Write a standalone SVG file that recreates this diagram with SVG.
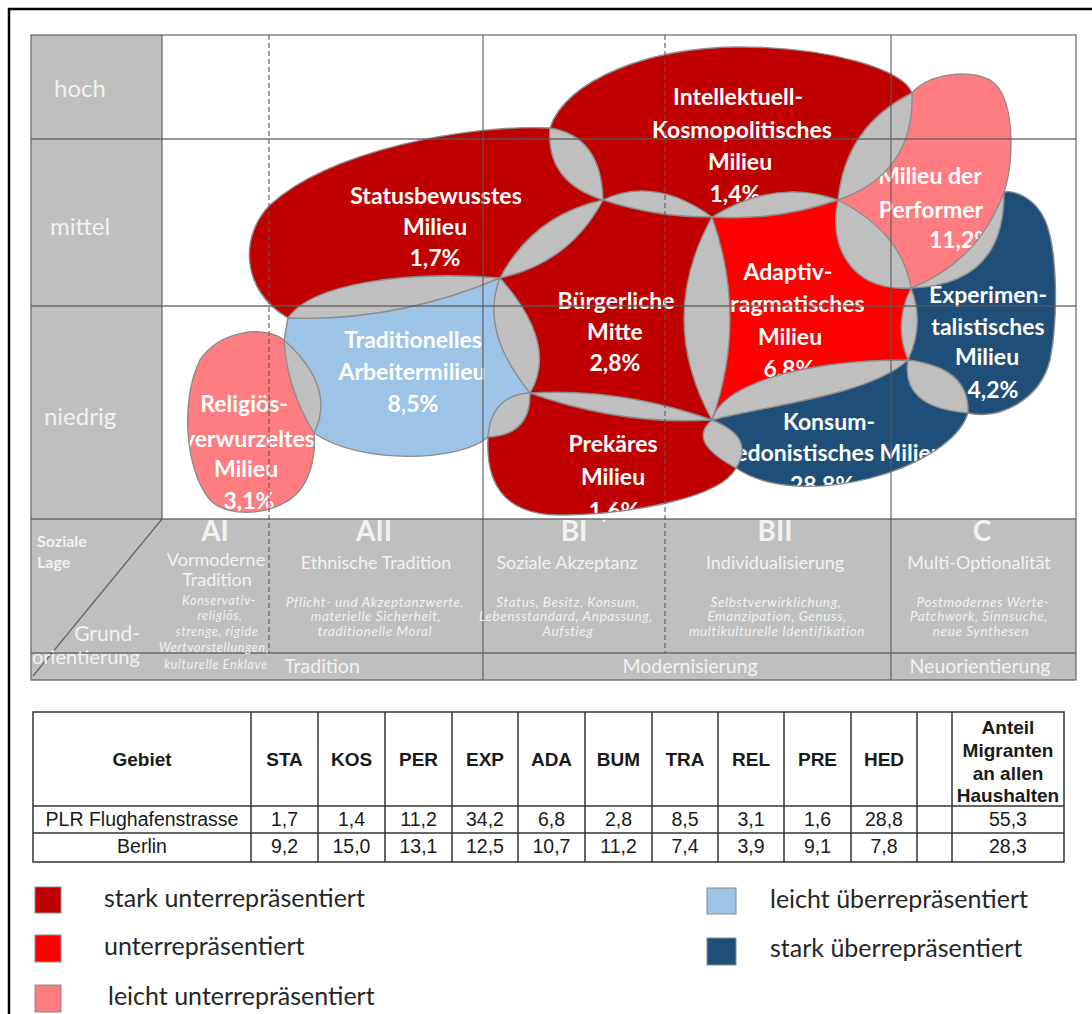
<svg xmlns="http://www.w3.org/2000/svg" xmlns:xlink="http://www.w3.org/1999/xlink" width="1092" height="1014" viewBox="0 0 1092 1014">
<style>
.bg{fill:#ffffff}
.gray{fill:#bfbfbf}
.grid{stroke:#595959;stroke-width:1.3;fill:none;opacity:0.85}
.dash{stroke:#595959;stroke-width:1.3;fill:none;stroke-dasharray:5 3;opacity:0.85}
.dkred{fill:#c00000}
.red{fill:#ff0000}
.ltred{fill:#ff7c80}
.ltblue{fill:#9dc3e6}
.dkblue{fill:#1f4e79}
.lens{fill:#bfbfbf}
.outline{fill:none;stroke:#8c8c8c;stroke-width:1.4}
.bt{font-family:Lato,"Liberation Sans",sans-serif;font-weight:700;font-size:23px;fill:#ffffff;text-anchor:middle}
.rowl{font-family:Lato,"Liberation Sans",sans-serif;font-size:24px;fill:#f2f2f2;text-anchor:middle}
.col{font-family:Lato,"Liberation Sans",sans-serif;font-weight:700;font-size:28px;fill:#f2f2f2;text-anchor:middle}
.sub{font-family:Lato,"Liberation Sans",sans-serif;font-size:18px;fill:#f2f2f2;text-anchor:middle}
.it{font-family:Lato,"Liberation Sans",sans-serif;font-style:italic;font-size:13.5px;letter-spacing:0.6px;fill:#f2f2f2;text-anchor:middle}
.it2{font-family:Lato,"Liberation Sans",sans-serif;font-style:italic;font-size:12.5px;letter-spacing:0.7px;fill:#f2f2f2;text-anchor:middle}
.bot{font-family:Lato,"Liberation Sans",sans-serif;font-size:19.5px;fill:#f2f2f2;text-anchor:middle}
.cl{font-family:Lato,"Liberation Sans",sans-serif;fill:#f2f2f2}
.tline{stroke:#333333;stroke-width:1.5;fill:none}
.th{font-family:"Liberation Sans",Arial,sans-serif;font-weight:700;font-size:19px;fill:#1a1a1a;text-anchor:middle}
.td{font-family:"Liberation Sans",Arial,sans-serif;font-size:19.5px;fill:#1a1a1a;text-anchor:middle}
.leg{font-family:Lato,"Liberation Sans",sans-serif;font-size:25px;fill:#262626}
.sq{stroke:#8c8c8c;stroke-width:1}
</style>
<defs>
<path id="p-sta" d="M550,128 Q601.5,136 603,200 Q569.7,263 500,278 Q396,322 288,318 C240,290 240,235 270,205 C330,150 470,124 550,128 Z"/>
<path id="p-kos" d="M550,128 C565,80 650,47 740,47 C830,47 905,70 912,93 Q914.5,173.8 838,200 Q775,221.5 712,217 Q656.5,217.5 603,200 Q545.5,182 550,128 Z"/>
<path id="p-bum" d="M500,278 Q533.3,215 603,200 Q654.5,175.5 712,217 Q748,318.5 712,420 Q621,425.5 530,393 Q479,330.5 500,278 Z"/>
<path id="p-ada" d="M712,217 Q775,177.5 838,200 Q902,232.5 911,288 Q925,324 908,360 C870,395 770,405 712,420 Q656,318.5 712,217 Z"/>
<path id="p-per" d="M912,93 C930,72 970,70 990,80 C1015,95 1015,160 1004,192 Q1005,285 911,288 C850,292 828,245 838,200 Q845.4,126 912,93 Z"/>
<path id="p-exp" d="M1004,192 C1015,190 1035,198 1045,220 C1058,250 1058,320 1050,360 C1040,400 1000,420 968,413 Q900,407.5 908,360 Q893,324 911,288 Q978,262 1004,192 Z"/>
<path id="p-hed" d="M712,420 C722,385 800,360 908,360 Q970,367.5 968,413 C950,470 800,512 736,468 Q686,441.5 712,420 Z"/>
<path id="p-pre" d="M530,393 Q621,387.5 712,420 Q756,437.5 736,468 C720,500 620,515 560,515 C510,515 485,490 488,437 Q491,395 530,393 Z"/>
<path id="p-tra" d="M288,318 C310,285 400,270 500,278 Q559,344.5 530,393 Q531,435 488,437 C460,462 360,465 314,433 Q287,389.5 284,340 L288,318 Z"/>
<path id="p-rel" d="M284,340 C265,325 220,330 200,360 C180,400 185,470 210,500 C230,520 280,515 300,490 C312,475 316,450 314,433 Q337,387.5 284,340 Z"/>
<clipPath id="c-sta"><use xlink:href="#p-sta"/></clipPath>
<clipPath id="c-kos"><use xlink:href="#p-kos"/></clipPath>
<clipPath id="c-bum"><use xlink:href="#p-bum"/></clipPath>
<clipPath id="c-ada"><use xlink:href="#p-ada"/></clipPath>
<clipPath id="c-per"><use xlink:href="#p-per"/></clipPath>
<clipPath id="c-exp"><use xlink:href="#p-exp"/></clipPath>
<clipPath id="c-hed"><use xlink:href="#p-hed"/></clipPath>
<clipPath id="c-tra"><use xlink:href="#p-tra"/></clipPath>
</defs>

<rect class="bg" x="0" y="0" width="1092" height="1014"/>
<path d="M9,1014 V9 H1092" fill="none" stroke="#000000" stroke-width="2.5"/>

<!-- chart backgrounds -->
<g id="chart-bg">
<rect class="gray" x="31" y="35" width="131" height="484"/>
<rect class="gray" x="31" y="519" width="1045" height="161"/>
<text class="rowl" x="80" y="97">hoch</text>
<text class="rowl" x="80" y="235">mittel</text>
<text class="rowl" x="80" y="425">niedrig</text>
</g>

<!-- milieu nodes -->
<g id="node-sta"><use xlink:href="#p-sta" class="dkred"/>
<text class="bt" x="436" y="204">Statusbewusstes</text><text class="bt" x="435" y="235">Milieu</text><text class="bt" x="435" y="266">1,7%</text></g>
<g id="node-kos"><use xlink:href="#p-kos" class="dkred"/>
<text class="bt" x="738" y="105">Intellektuell-</text><text class="bt" x="742" y="138">Kosmopolitisches</text><text class="bt" x="740" y="170">Milieu</text><text class="bt" x="735" y="202">1,4%</text></g>
<g id="node-bum"><use xlink:href="#p-bum" class="dkred"/>
<text class="bt" x="616" y="309">Bürgerliche</text><text class="bt" x="615" y="340">Mitte</text><text class="bt" x="615" y="371">2,8%</text></g>
<g id="node-ada"><use xlink:href="#p-ada" class="red"/>
<text class="bt" x="788" y="280">Adaptiv-</text><text class="bt" x="791" y="312">pragmatisches</text><text class="bt" x="790" y="345">Milieu</text><text class="bt" x="789" y="377">6,8%</text></g>
<g id="node-per"><use xlink:href="#p-per" class="ltred"/>
<text class="bt" x="930" y="184">Milieu der</text><text class="bt" x="931" y="218">Performer</text><text class="bt" x="961" y="248">11,2%</text></g>
<g id="node-exp"><use xlink:href="#p-exp" class="dkblue"/>
<text class="bt" x="988" y="303">Experimen-</text><text class="bt" x="988" y="335">talistisches</text><text class="bt" x="987" y="365">Milieu</text><text class="bt" x="993" y="398">4,2%</text></g>
<g id="node-hed"><use xlink:href="#p-hed" class="dkblue"/>
<text class="bt" x="829" y="430">Konsum-</text><text class="bt" x="833" y="461">hedonistisches Milieu</text><text class="bt" x="822" y="493">28,8%</text></g>
<g id="node-pre"><use xlink:href="#p-pre" class="dkred"/>
<text class="bt" x="613" y="452">Prekäres</text><text class="bt" x="613" y="485">Milieu</text><text class="bt" x="614" y="519">1,6%</text></g>
<g id="node-tra"><use xlink:href="#p-tra" class="ltblue"/>
<text class="bt" x="413" y="348">Traditionelles</text><text class="bt" x="412" y="380">Arbeitermilieu</text><text class="bt" x="413" y="412">8,5%</text></g>
<g id="node-rel"><use xlink:href="#p-rel" class="ltred"/>
<text class="bt" x="244" y="412">Religiös-</text><text class="bt" x="249" y="447">verwurzeltes</text><text class="bt" x="246" y="477">Milieu</text><text class="bt" x="249" y="509">3,1%</text></g>

<!-- overlaps and outlines -->
<g id="overlaps">
<use xlink:href="#p-kos" class="lens" clip-path="url(#c-sta)"/>
<use xlink:href="#p-bum" class="lens" clip-path="url(#c-sta)"/>
<use xlink:href="#p-tra" class="lens" clip-path="url(#c-sta)"/>
<use xlink:href="#p-bum" class="lens" clip-path="url(#c-kos)"/>
<use xlink:href="#p-ada" class="lens" clip-path="url(#c-kos)"/>
<use xlink:href="#p-per" class="lens" clip-path="url(#c-kos)"/>
<use xlink:href="#p-ada" class="lens" clip-path="url(#c-per)"/>
<use xlink:href="#p-exp" class="lens" clip-path="url(#c-per)"/>
<use xlink:href="#p-bum" class="lens" clip-path="url(#c-ada)"/>
<use xlink:href="#p-exp" class="lens" clip-path="url(#c-ada)"/>
<use xlink:href="#p-hed" class="lens" clip-path="url(#c-ada)"/>
<use xlink:href="#p-hed" class="lens" clip-path="url(#c-exp)"/>
<use xlink:href="#p-pre" class="lens" clip-path="url(#c-hed)"/>
<use xlink:href="#p-pre" class="lens" clip-path="url(#c-bum)"/>
<use xlink:href="#p-tra" class="lens" clip-path="url(#c-bum)"/>
<use xlink:href="#p-pre" class="lens" clip-path="url(#c-tra)"/>
<use xlink:href="#p-rel" class="lens" clip-path="url(#c-tra)"/>
<use xlink:href="#p-sta" class="outline"/>
<use xlink:href="#p-kos" class="outline"/>
<use xlink:href="#p-bum" class="outline"/>
<use xlink:href="#p-ada" class="outline"/>
<use xlink:href="#p-per" class="outline"/>
<use xlink:href="#p-exp" class="outline"/>
<use xlink:href="#p-hed" class="outline"/>
<use xlink:href="#p-pre" class="outline"/>
<use xlink:href="#p-tra" class="outline"/>
<use xlink:href="#p-rel" class="outline"/>
</g>

<!-- grid lines -->
<g id="grid">
<rect class="grid" x="31" y="35" width="1045" height="645"/>
<line class="grid" x1="31" y1="139" x2="1076" y2="139"/>
<line class="grid" x1="31" y1="306" x2="1076" y2="306"/>
<line class="grid" x1="31" y1="519" x2="1076" y2="519"/>
<line class="grid" x1="31" y1="653" x2="1076" y2="653"/>
<line class="grid" x1="162" y1="35" x2="162" y2="519"/>
<line class="grid" x1="483" y1="35" x2="483" y2="680"/>
<line class="grid" x1="891" y1="35" x2="891" y2="680"/>
<line class="dash" x1="269" y1="35" x2="269" y2="653"/>
<line class="dash" x1="665" y1="35" x2="665" y2="653"/>
<line class="grid" x1="162" y1="519" x2="33" y2="676"/>
</g>

<!-- band labels -->
<g id="band-labels">
<text class="cl" x="37" y="547" font-size="16" font-weight="700">Soziale</text>
<text class="cl" x="37" y="568" font-size="16" font-weight="700">Lage</text>
<text class="cl" x="140" y="641" font-size="21" text-anchor="end">Grund-</text>
<text class="cl" x="32" y="664" font-size="20">orientierung</text>
<text class="col" x="215" y="541">AI</text>
<text class="col" x="374" y="541">AII</text>
<text class="col" x="574" y="541">BI</text>
<text class="col" x="775" y="541">BII</text>
<text class="col" x="982" y="541">C</text>
<text class="sub" x="216" y="566">Vormoderne</text>
<text class="sub" x="217" y="586">Tradition</text>
<text class="sub" x="376" y="569">Ethnische Tradition</text>
<text class="sub" x="567" y="569">Soziale Akzeptanz</text>
<text class="sub" x="775" y="569">Individualisierung</text>
<text class="sub" x="979" y="569">Multi-Optionalität</text>
<text class="it2" x="219" y="605">Konservativ-</text>
<text class="it2" x="220" y="620">religiös,</text>
<text class="it2" x="217" y="636">strenge, rigide</text>
<text class="it2" x="214" y="652">Wertvorstellungen,</text>
<text class="it2" x="216" y="669">kulturelle Enklave</text>
<text class="it" x="375" y="607">Pflicht- und Akzeptanzwerte,</text>
<text class="it" x="376" y="621">materielle Sicherheit,</text>
<text class="it" x="375" y="636">traditionelle Moral</text>
<text class="it" x="568" y="607">Status, Besitz, Konsum,</text>
<text class="it" x="566" y="621">Lebensstandard, Anpassung,</text>
<text class="it" x="568" y="636">Aufstieg</text>
<text class="it" x="776" y="607">Selbstverwirklichung,</text>
<text class="it" x="777" y="621">Emanzipation, Genuss,</text>
<text class="it" x="777" y="636">multikulturelle Identifikation</text>
<text class="it" x="983" y="607">Postmodernes Werte-</text>
<text class="it" x="979" y="621">Patchwork, Sinnsuche,</text>
<text class="it" x="981" y="636">neue Synthesen</text>
<text class="bot" x="322" y="673">Tradition</text>
<text class="bot" x="690" y="673">Modernisierung</text>
<text class="bot" x="980" y="673">Neuorientierung</text>
</g>

<!-- table -->
<g id="table">
<rect class="tline" x="33" y="712" width="1031" height="150" stroke-width="2"/>
<line class="tline" x1="33" y1="806" x2="1064" y2="806"/>
<line class="tline" x1="33" y1="833" x2="1064" y2="833"/>
<line class="tline" x1="251" y1="712" x2="251" y2="862"/>
<line class="tline" x1="318" y1="712" x2="318" y2="862"/>
<line class="tline" x1="385" y1="712" x2="385" y2="862"/>
<line class="tline" x1="452" y1="712" x2="452" y2="862"/>
<line class="tline" x1="518" y1="712" x2="518" y2="862"/>
<line class="tline" x1="585" y1="712" x2="585" y2="862"/>
<line class="tline" x1="652" y1="712" x2="652" y2="862"/>
<line class="tline" x1="718" y1="712" x2="718" y2="862"/>
<line class="tline" x1="784" y1="712" x2="784" y2="862"/>
<line class="tline" x1="851" y1="712" x2="851" y2="862"/>
<line class="tline" x1="917" y1="712" x2="917" y2="862"/>
<line class="tline" x1="952" y1="712" x2="952" y2="862"/>
<text class="th" x="142" y="766">Gebiet</text>
<text class="th" x="284.5" y="766">STA</text>
<text class="th" x="351.5" y="766">KOS</text>
<text class="th" x="418.5" y="766">PER</text>
<text class="th" x="485" y="766">EXP</text>
<text class="th" x="551.5" y="766">ADA</text>
<text class="th" x="618.5" y="766">BUM</text>
<text class="th" x="685" y="766">TRA</text>
<text class="th" x="751" y="766">REL</text>
<text class="th" x="817.5" y="766">PRE</text>
<text class="th" x="884" y="766">HED</text>
<text class="th" x="1008" y="734">Anteil</text>
<text class="th" x="1008" y="757">Migranten</text>
<text class="th" x="1008" y="780">an allen</text>
<text class="th" x="1008" y="802">Haushalten</text>
<text class="td" x="142" y="826">PLR Flughafenstrasse</text>
<text class="td" x="284.5" y="826">1,7</text>
<text class="td" x="351.5" y="826">1,4</text>
<text class="td" x="418.5" y="826">11,2</text>
<text class="td" x="485" y="826">34,2</text>
<text class="td" x="551.5" y="826">6,8</text>
<text class="td" x="618.5" y="826">2,8</text>
<text class="td" x="685" y="826">8,5</text>
<text class="td" x="751" y="826">3,1</text>
<text class="td" x="817.5" y="826">1,6</text>
<text class="td" x="884" y="826">28,8</text>
<text class="td" x="1008" y="826">55,3</text>
<text class="td" x="142" y="853">Berlin</text>
<text class="td" x="284.5" y="853">9,2</text>
<text class="td" x="351.5" y="853">15,0</text>
<text class="td" x="418.5" y="853">13,1</text>
<text class="td" x="485" y="853">12,5</text>
<text class="td" x="551.5" y="853">10,7</text>
<text class="td" x="618.5" y="853">11,2</text>
<text class="td" x="685" y="853">7,4</text>
<text class="td" x="751" y="853">3,9</text>
<text class="td" x="817.5" y="853">9,1</text>
<text class="td" x="884" y="853">7,8</text>
<text class="td" x="1008" y="853">28,3</text>
</g>

<!-- legend -->
<g id="legend">
<rect class="sq dkred" x="35" y="887" width="26" height="26"/>
<text class="leg" x="104" y="907">stark unterrepräsentiert</text>
<rect class="sq red" x="35" y="935" width="26" height="27"/>
<text class="leg" x="104" y="955">unterrepräsentiert</text>
<rect class="sq ltred" x="35" y="985" width="26" height="27"/>
<text class="leg" x="108" y="1005">leicht unterrepräsentiert</text>
<rect class="sq ltblue" x="707" y="888" width="29" height="26"/>
<text class="leg" x="770" y="908">leicht überrepräsentiert</text>
<rect class="sq dkblue" x="707" y="938" width="29" height="27"/>
<text class="leg" x="770" y="957">stark überrepräsentiert</text>
</g>
</svg>
